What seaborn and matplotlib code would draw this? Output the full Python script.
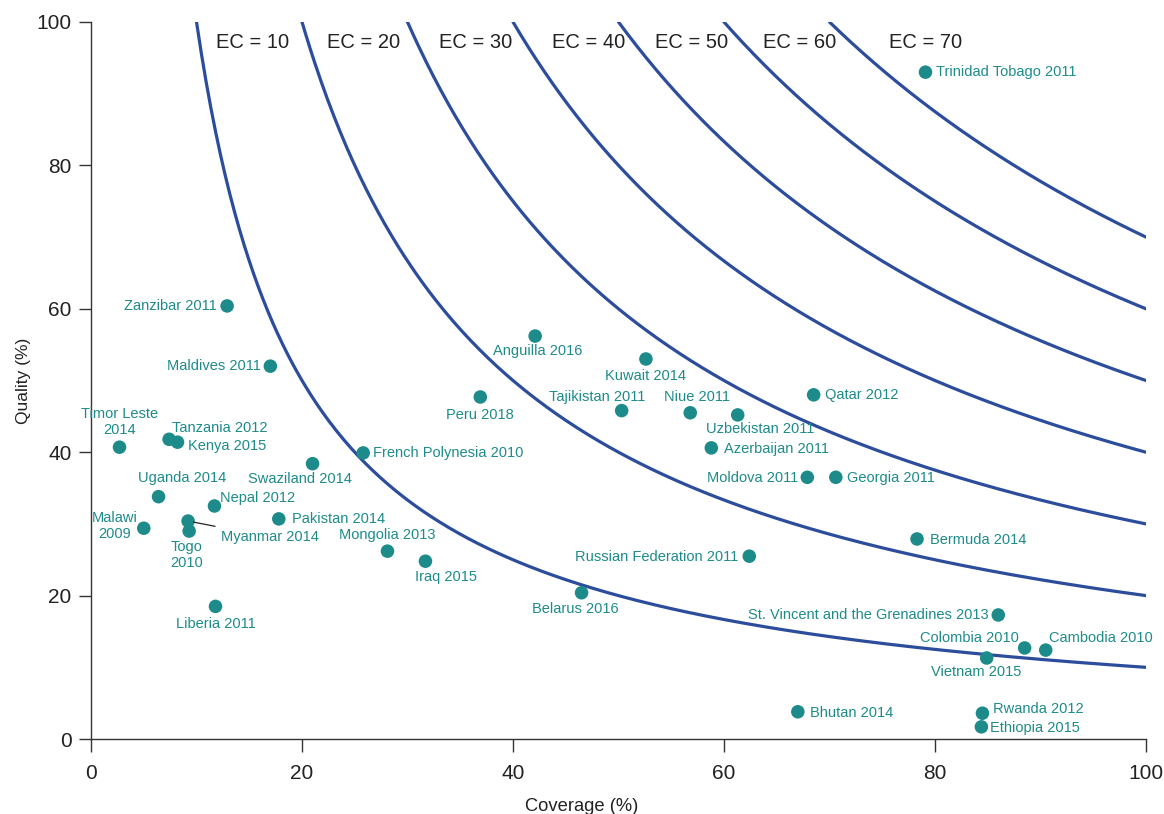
import numpy as np
import pandas as pd
import matplotlib
matplotlib.use("Agg")
import matplotlib.pyplot as plt
import seaborn as sns

# -------------------------
# DATA
# -------------------------
countries = [
    "Trinidad Tobago 2011", "Zanzibar 2011", "Anguilla 2016", "Kuwait 2014",
    "Maldives 2011", "Qatar 2012", "Peru 2018", "Tajikistan 2011", "Niue 2011",
    "Uzbekistan 2011", "Azerbaijan 2011", "Timor Leste\n2014", "Tanzania 2012",
    "Kenya 2015", "French Polynesia 2010", "Swaziland 2014", "Moldova 2011",
    "Georgia 2011", "Uganda 2014", "Nepal 2012", "Pakistan 2014", "Malawi\n2009",
    "Myanmar 2014", "Togo\n2010", "Bermuda 2014", "Mongolia 2013",
    "Russian Federation 2011", "Iraq 2015", "Belarus 2016", "Liberia 2011",
    "St. Vincent and the Grenadines 2013", "Colombia 2010", "Cambodia 2010",
    "Vietnam 2015", "Bhutan 2014", "Rwanda 2012", "Ethiopia 2015",
]
coverage = [
    79.1, 12.9, 42.1, 52.6, 17.0, 68.5, 36.9, 50.3, 56.8, 61.3, 58.8, 2.7, 7.4,
    8.2, 25.8, 21.0, 67.9, 70.6, 6.4, 11.7, 17.8, 5.0, 9.2, 9.3, 78.3, 28.1,
    62.4, 31.7, 46.5, 11.8, 86.0, 88.5, 90.5, 84.9, 67.0, 84.5, 84.4,
]
quality = [
    93.0, 60.4, 56.2, 53.0, 52.0, 48.0, 47.7, 45.8, 45.5, 45.2, 40.6, 40.7, 41.8,
    41.4, 39.9, 38.4, 36.5, 36.5, 33.8, 32.5, 30.7, 29.4, 30.4, 29.0, 27.9, 26.2,
    25.5, 24.8, 20.4, 18.5, 17.3, 12.7, 12.4, 11.3, 3.8, 3.6, 1.7,
]
ec_levels = [10, 20, 30, 40, 50, 60, 70]
ec_label_x = [15.3, 25.8, 36.5, 47.2, 56.9, 67.2, 79.1]

df = pd.DataFrame({"country": countries, "coverage": coverage, "quality": quality})

# label placement: (dx px, dy px, ha, va)
label_pos = {
    "Trinidad Tobago 2011": (11, 0, "left", "center"),
    "Zanzibar 2011": (-10, 0, "right", "center"),
    "Anguilla 2016": (3, -15, "center", "center"),
    "Kuwait 2014": (0, -17, "center", "center"),
    "Maldives 2011": (-9, 0, "right", "center"),
    "Qatar 2012": (11, 0, "left", "center"),
    "Peru 2018": (0, -18, "center", "center"),
    "Tajikistan 2011": (-24, 14, "center", "center"),
    "Niue 2011": (7, 16, "center", "center"),
    "Uzbekistan 2011": (22, -14, "center", "center"),
    "Azerbaijan 2011": (13, -1, "left", "center"),
    "Timor Leste\n2014": (0, 10, "center", "bottom"),
    "Tanzania 2012": (3, 11, "left", "center"),
    "Kenya 2015": (10, -4, "left", "center"),
    "French Polynesia 2010": (10, 0, "left", "center"),
    "Swaziland 2014": (-13, -15, "center", "center"),
    "Moldova 2011": (-9, -1, "right", "center"),
    "Georgia 2011": (11, -1, "left", "center"),
    "Uganda 2014": (24, 19, "center", "center"),
    "Nepal 2012": (6, 8, "left", "center"),
    "Pakistan 2014": (13, 0, "left", "center"),
    "Malawi\n2009": (-6, 2, "right", "center"),
    "Myanmar 2014": (33, -16, "left", "center"),
    "Togo\n2010": (-3, -9, "center", "top"),
    "Bermuda 2014": (13, -1, "left", "center"),
    "Mongolia 2013": (0, 16, "center", "center"),
    "Russian Federation 2011": (-11, -1, "right", "center"),
    "Iraq 2015": (21, -16, "center", "center"),
    "Belarus 2016": (-6, -16, "center", "center"),
    "Liberia 2011": (0, -18, "center", "center"),
    "St. Vincent and the Grenadines 2013": (-10, 0, "right", "center"),
    "Colombia 2010": (-6, 10, "right", "center"),
    "Cambodia 2010": (3, 12, "left", "center"),
    "Vietnam 2015": (-10, -14, "center", "center"),
    "Bhutan 2014": (12, -1, "left", "center"),
    "Rwanda 2012": (11, 4, "left", "center"),
    "Ethiopia 2015": (9, -1, "left", "center"),
}

teal = "#1d8b8a"
blue = "#2c4c9c"
dark = "#333333"

sns.set_style("white")
plt.rcParams["font.family"] = ["Liberation Sans", "DejaVu Sans"]

fig = plt.figure(figsize=(11.64, 8.14), dpi=100)
ax = fig.add_axes([0.0782, 0.0921, 0.9063, 0.8809])

# EC curves: quality = EC * 100 / coverage
for ec, lx in zip(ec_levels, ec_label_x):
    xs = np.linspace(ec, 100, 400)
    ax.plot(xs, ec * 100 / xs, color=blue, lw=2.3, zorder=1, clip_on=True)
    ax.text(lx, 97.1, f"EC = {ec}", ha="center", va="center",
            fontsize=14.5, color="#222222")

sns.scatterplot(data=df, x="coverage", y="quality", color=teal, s=95,
                edgecolor="none", ax=ax, zorder=3)

for name, x, y in zip(countries, coverage, quality):
    dx, dy, ha, va = label_pos[name]
    arrow = None
    if name == "Myanmar 2014":
        arrow = dict(arrowstyle="-", color="#222222", lw=0.9, shrinkA=2, shrinkB=4)
    ax.annotate(name, (x, y), xytext=(dx, dy), textcoords="offset pixels",
                ha=ha, va=va, multialignment="center", fontsize=10.5,
                color=teal, linespacing=1.2, arrowprops=arrow)

ax.set_xlim(0, 100)
ax.set_ylim(0, 100)
ax.set_xticks(range(0, 101, 20))
ax.set_yticks(range(0, 101, 20))
ax.tick_params(bottom=True, left=True, direction="out", length=9, width=1,
               color=dark, labelsize=15, labelcolor="#222222")
ax.tick_params(axis="x", pad=9)
ax.tick_params(axis="y", pad=5)
ax.set_xlabel("Coverage (%)", fontsize=13.2, color="#222222", va="center")
ax.xaxis.set_label_coords(0.465, -0.094)
ax.set_ylabel("Quality (%)", fontsize=12.5, color="#222222", labelpad=4)
sns.despine(ax=ax)
for sp in ["left", "bottom"]:
    ax.spines[sp].set_color(dark)
    ax.spines[sp].set_linewidth(1)

fig.savefig("out.png", dpi=100)
